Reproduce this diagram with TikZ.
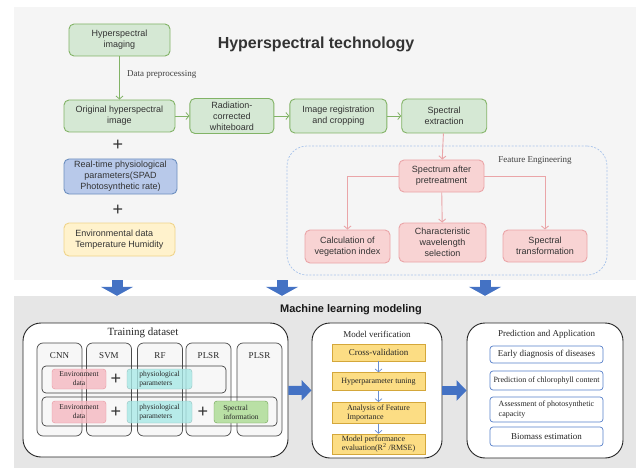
\documentclass[tikz,border=0pt]{standalone}
\usepackage{fontspec}
\setmainfont{Liberation Serif}
\setsansfont{Liberation Sans}
\usetikzlibrary{positioning,arrows.meta}

\definecolor{panelA}{HTML}{F5F5F5}
\definecolor{panelB}{HTML}{E6E6E6}
\definecolor{gfill}{HTML}{D5E8D4}
\definecolor{gline}{HTML}{82B366}
\definecolor{bfill}{HTML}{B8C9EA}
\definecolor{bline}{HTML}{6C8EBF}
\definecolor{yfill}{HTML}{FFF2CC}
\definecolor{yline}{HTML}{F0D48A}
\definecolor{pfill}{HTML}{F8D3D3}
\definecolor{pline}{HTML}{EAA5A8}
\definecolor{feline}{HTML}{A9C4EB}
\definecolor{bigblue}{HTML}{4472C4}
\definecolor{gold}{HTML}{FCDD84}
\definecolor{goldline}{HTML}{D4A73A}
\definecolor{envfill}{HTML}{F5B8C0}
\definecolor{envline}{HTML}{E8949E}
\definecolor{cyanfill}{HTML}{A8E8E6}
\definecolor{spfill}{HTML}{B9E0A5}
\definecolor{spline}{HTML}{6D9E4F}
\definecolor{txt}{HTML}{333333}

\begin{document}
\begin{tikzpicture}[x=1pt,y=-1pt,
  every node/.style={align=center,text=txt},
  sans/.style={font=\sffamily\fontsize{9}{11}\selectfont},
  serifnine/.style={font=\rmfamily\fontsize{9}{11}\selectfont,text=black!85},
  serifeight/.style={font=\rmfamily\fontsize{8}{9.5}\selectfont,text=black!85},
  serifsmall/.style={font=\rmfamily\fontsize{7.5}{9}\selectfont,text=black!85},
  panel/.style={draw=none,rectangle,inner sep=0pt},
  box/.style={sans,draw,rounded corners=5pt,inner sep=1pt,line width=0.9pt},
  gbox/.style={box,fill=gfill,draw=gline},
  bbox/.style={box,fill=bfill,draw=bline},
  ybox/.style={box,fill=yfill,draw=yline,align=left},
  pbox/.style={box,fill=pfill,draw=pline},
  febox/.style={draw=feline,dash pattern=on 2pt off 1.5pt,line width=0.7pt,rounded corners=20pt},
  plus/.style={font=\sffamily\fontsize{18}{18}\selectfont,inner sep=0pt,text=black!80},
  bigbox/.style={draw=black!85,fill=white,line width=0.9pt,rounded corners=18pt},
  modelcol/.style={draw=black!70,fill=black!3,line width=0.7pt,rounded corners=6pt,
    minimum width=45pt,minimum height=93pt},
  collab/.style={serifnine,anchor=north,yshift=-6pt},
  rowbox/.style={draw=black!75,line width=0.7pt,rounded corners=4pt},
  envbox/.style={serifsmall,draw=envline,fill=envfill,fill opacity=0.8,text opacity=1,
    rounded corners=3pt,inner sep=0.5pt,minimum width=54pt},
  physbox/.style={envbox,draw=cyanfill!80!black!90,fill=cyanfill,align=left,minimum width=65pt},
  spbox/.style={envbox,draw=spline,fill=spfill,fill opacity=1,align=left},
  goldbox/.style={serifeight,draw=goldline,fill=gold,line width=0.7pt,inner sep=0.5pt,
    minimum width=93pt},
  appbox/.style={serifeight,draw=bigblue!90,fill=white,line width=0.7pt,rounded corners=3pt,
    inner sep=0.5pt,minimum width=113pt},
  garrow/.style={->,draw=gline,line width=0.8pt},
  parrow/.style={->,draw=pline,line width=0.9pt},
  barrow/.style={->,draw=bigblue!80,line width=0.7pt},
  bigarrow/.style={draw=bigblue,line width=11pt,-{Triangle[width=32pt,length=9pt]}},
  sidearrow/.style={draw=bigblue,line width=9pt,-{Triangle[width=20pt,length=10pt]}},
  >={Straight Barb[length=3pt,width=7pt]}]

\useasboundingbox (0,0) rectangle (640,468);
\fill[white] (0,0) rectangle (640,468);

% panels
\node[panel,fill=panelA,minimum width=622pt,minimum height=273pt] (top) at (325,143.5) {};
\node[panel,fill=panelB,minimum width=622pt,minimum height=172pt] (bottom) at (325,382) {};
\node[font=\sffamily\bfseries\fontsize{16}{19}\selectfont] (title) at (316,44) {Hyperspectral technology};
\node[font=\sffamily\bfseries\fontsize{11}{13}\selectfont,text=black!90] (mltitle) at (351,310) {Machine learning modeling};

% hyperspectral part
\node[gbox,minimum width=101pt,minimum height=32pt] (img) at (119.5,40) {Hyperspectral\\imaging};
\node[gbox,minimum width=111pt,minimum height=32pt] (orig) at (119.5,116) {Original hyperspectral\\image};
\node[gbox,minimum width=84pt,minimum height=35pt,right=14pt of orig] (rad) {Radiation-\\corrected\\whiteboard};
\node[gbox,minimum width=97pt,minimum height=34pt,right=15pt of rad] (reg) {Image registration\\and cropping};
\node[gbox,minimum width=85pt,minimum height=34pt,right=14pt of reg] (sext) {Spectral\\extraction};
\node[plus] (p1) at (118,145) {+};
\node[bbox,minimum width=113pt,minimum height=35pt] (phys) at (120.5,176.5) {Real-time physiological\\parameters(SPAD\\Photosynthetic rate)};
\node[plus] (p2) at (118,210) {+};
\node[ybox,minimum width=111pt,minimum height=33pt] (env) at (119.5,239.5) {Environmental data\\Temperature Humidity};

% feature engineering
\node[febox,minimum width=320pt,minimum height=129pt] (fe) at (447,210.5) {};
\node[serifnine,text=black!75] (fetitle) at (535,160) {Feature Engineering};
\node[pbox,minimum width=85pt,minimum height=32pt] (pre) at (441.5,176) {Spectrum after\\pretreatment};
\node[pbox,minimum width=85pt,minimum height=33pt] (vi) at (347.5,246.5) {Calculation of\\vegetation index};
\node[pbox,minimum width=87pt,minimum height=39pt] (wl) at (442.5,242.5) {Characteristic\\wavelength\\selection};
\node[pbox,minimum width=84pt,minimum height=32pt] (st) at (545,246) {Spectral\\transformation};

\draw[garrow] (img) -- node[serifnine,text=black!75,right=4pt,pos=0.42]{Data preprocessing} (orig);
\draw[garrow] (orig) -- (rad);
\draw[garrow] (rad) -- (reg);
\draw[garrow] (reg) -- (sext);
\draw[parrow] (sext) -- (pre);
\draw[parrow] (pre) -| (vi);
\draw[parrow] (pre) -- (wl);
\draw[parrow] (pre) -| (st);

% arrows into the modeling panel
\draw[bigarrow] ([xshift=-208pt]top.south) -- ([xshift=-208pt]bottom.north);
\draw[bigarrow] ([xshift=-43pt]top.south) -- ([xshift=-43pt]bottom.north);
\draw[bigarrow] ([xshift=160pt]top.south) -- ([xshift=160pt]bottom.north);

% training dataset
\node[bigbox,minimum width=265pt,minimum height=134pt] (train) at (155.5,390) {};
\node[font=\rmfamily\fontsize{11}{13}\selectfont,text=black!85] (traint) at (143,333) {Training dataset};
\foreach \nm/\x/\lab in {cnn/59.5/CNN,svm/109/SVM,rf/160/RF,plsra/208.5/PLSR,plsrb/259.5/PLSR}
  \node[modelcol,label={[collab]north:\lab}] (\nm) at (\x,389.5) {};
\node[rowbox,minimum width=184pt,minimum height=27pt] (row1) at (134,379.5) {};
\node[rowbox,minimum width=235pt,minimum height=29pt] (row2) at (159.5,411.5) {};
\node[envbox,minimum height=20pt] (envA) at (79,379) {Environment\\data};
\node[plus] (pA) at (116,379) {+};
\node[physbox,minimum height=20pt] (phyA) at (159.5,379) {physiological\\parameters};
\node[envbox,minimum height=22pt] (envB) at (79,412) {Environment\\data};
\node[plus] (pB) at (116,412) {+};
\node[physbox,minimum height=22pt] (phyB) at (159.5,412) {physiological\\parameters};
\node[plus] (pC) at (203,412) {+};
\node[spbox,minimum height=22pt] (spec) at (241,412) {Spectral\\information};

% model verification
\node[bigbox,minimum width=130pt,minimum height=135pt] (verif) at (377,390.5) {};
\node[serifnine] (veriftitle) at (377,334) {Model verification};
\node[goldbox,font=\rmfamily\fontsize{9}{10}\selectfont,minimum height=17pt] (cv) at (378.5,352.5) {Cross-validation};
\node[goldbox,minimum height=18pt,below=11pt of cv] (hp) {Hyperparameter tuning};
\node[goldbox,minimum height=21pt,below=11pt of hp,align=left] (fi) {Analysis of Feature\\Importance};
\node[goldbox,minimum height=20pt,below=10pt of fi,align=left] (mp) {Model performance\\evaluation(R\textsuperscript{2} /RMSE)};
\draw[barrow] (cv) -- (hp);
\draw[barrow] (hp) -- (fi);
\draw[barrow] (fi) -- (mp);

% prediction and application
\node[bigbox,minimum width=156pt,minimum height=135pt] (pred) at (545,390.5) {};
\node[serifnine] (predtitle) at (546.5,334) {Prediction and Application};
\node[appbox,font=\rmfamily\fontsize{9}{10}\selectfont,minimum height=17pt] (ed) at (546.5,354.5) {Early diagnosis of diseases};
\node[appbox,minimum height=19pt] (pc) at (546.5,380.5) {Prediction of chlorophyll content};
\node[appbox,minimum height=25pt,align=left] (as) at (546.5,409.5) {Assessment of photosynthetic\\capacity};
\node[appbox,font=\rmfamily\fontsize{9}{10}\selectfont,minimum height=19pt] (be) at (546.5,436.5) {Biomass estimation};

\draw[sidearrow] (train) -- (verif);
\draw[sidearrow] (verif) -- (pred);
\end{tikzpicture}
\end{document}
